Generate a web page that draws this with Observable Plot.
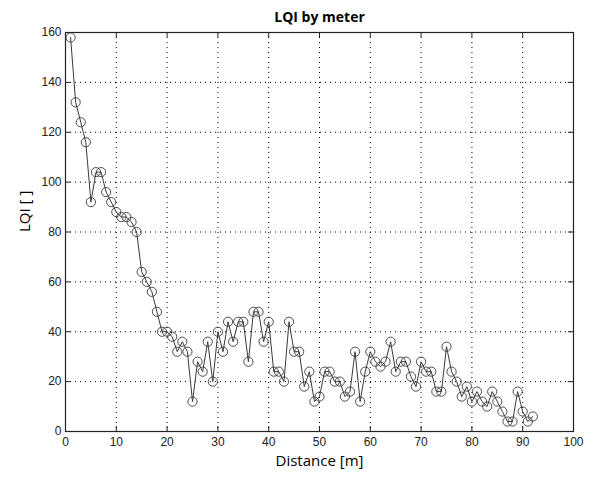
<!DOCTYPE html>
<html>
<head>
<meta charset="utf-8">
<script src="https://cdn.jsdelivr.net/npm/d3@7"></script>
<script src="https://cdn.jsdelivr.net/npm/@observablehq/plot@0.6"></script>
<style>
  body { margin: 0; background: #fff; }
  #chart { width: 597px; height: 477px; }
</style>
</head>
<body>
<div id="chart"></div>
<script>
const distance = [1,2,3,4,5,6,7,8,9,10,11,12,13,14,15,16,17,18,19,20,21,22,23,24,25,26,27,28,29,30,31,32,33,34,35,36,37,38,39,40,41,42,43,44,45,46,47,48,49,50,51,52,53,54,55,56,57,58,59,60,61,62,63,64,65,66,67,68,69,70,71,72,73,74,75,76,77,78,79,80,81,82,83,84,85,86,87,88,89,90,91,92];
const lqi = [158,132,124,116,92,104,104,96,92,88,86,86,84,80,64,60,56,48,40,40,38,32,36,32,12,28,24,36,20,40,32,44,36,44,44,28,48,48,36,44,24,24,20,44,32,32,18,24,12,14,24,24,20,20,14,16,32,12,24,32,28,26,28,36,24,28,28,22,18,28,24,24,16,16,34,24,20,14,18,12,16,12,10,16,12,8,4,4,16,8,4,6];
const xTicks = [0,10,20,30,40,50,60,70,80,90,100];
const yTicks = [0,20,40,60,80,100,120,140,160];
const title = "LQI by meter";
const xLabel = "Distance [m]";
const yLabel = "LQI [ ]";

const data = distance.map((d, i) => ({x: d, y: lqi[i]}));
const tickFont = "Liberation Sans, Arial, sans-serif";
const labelFont = "Open Sans, Calibri, sans-serif";

const plot = Plot.plot({
  width: 597,
  height: 477,
  marginLeft: 65,
  marginRight: 24,
  marginTop: 32,
  marginBottom: 46,
  style: {fontFamily: tickFont, fontSize: "12px", color: "#222", background: "#fff"},
  x: {domain: [0, 100], ticks: xTicks, label: null},
  y: {domain: [0, 160], ticks: yTicks, label: null},
  marks: [
    // dotted grid
    Plot.ruleX(xTicks.slice(1, -1), {stroke: "#000", strokeWidth: 1, strokeDasharray: "1,4"}),
    Plot.ruleY(yTicks.slice(1, -1), {stroke: "#000", strokeWidth: 1, strokeDasharray: "1,4"}),
    // inward ticks bottom & top
    Plot.ruleX(xTicks, {x: d => d, y1: 0, y2: 2, stroke: "#222"}),
    Plot.ruleX(xTicks, {x: d => d, y1: 158, y2: 160, stroke: "#222"}),
    // inward ticks left & right
    Plot.ruleY(yTicks, {y: d => d, x1: 0, x2: 1.0, stroke: "#222"}),
    Plot.ruleY(yTicks, {y: d => d, x1: 99, x2: 100, stroke: "#222"}),
    // frame
    Plot.frame({stroke: "#222", strokeWidth: 1.2}),
    // data
    Plot.line(data, {x: "x", y: "y", stroke: "#3a3a3a", strokeWidth: 1}),
    Plot.dot(data, {x: "x", y: "y", r: 4.6, stroke: "#3a3a3a", strokeWidth: 0.9, fill: "none"}),
    // axes
    Plot.axisX(xTicks, {tickSize: 0, tickPadding: 6, fontSize: 12, fill: "#222"}),
    Plot.axisY(yTicks, {tickSize: 0, tickPadding: 4, fontSize: 12, fill: "#222"}),
    // title and labels
    Plot.text([title], {frameAnchor: "top", dy: -20, fontFamily: labelFont, fontWeight: "bold", fontSize: 14, fill: "#000"}),
    Plot.text([xLabel], {frameAnchor: "bottom", dy: 34, fontFamily: labelFont, fontSize: 15, fill: "#000"}),
    Plot.text([yLabel], {frameAnchor: "left", dx: -40, rotate: -90, fontFamily: labelFont, fontSize: 15, fill: "#000"})
  ]
});
document.getElementById("chart").appendChild(plot);
</script>
</body>
</html>
